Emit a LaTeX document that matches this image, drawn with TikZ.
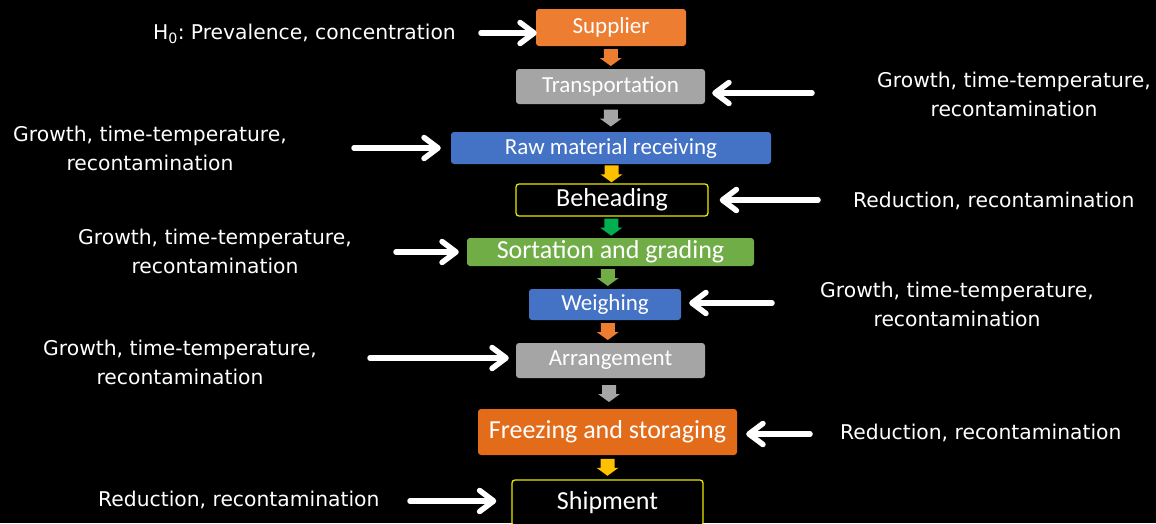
\documentclass[tikz,border=0pt]{standalone}
\usepackage{fontspec}
\setmainfont{DejaVu Sans}
\newfontfamily\boxfont{Carlito}
\usetikzlibrary{arrows.meta,calc}
\definecolor{borange}{HTML}{ED7D31}
\definecolor{dorange}{HTML}{E36C1B}
\definecolor{bgray}{HTML}{A5A5A5}
\definecolor{bblue}{HTML}{4472C4}
\definecolor{bgreen}{HTML}{70AD47}
\definecolor{dgreen}{HTML}{00B050}
\definecolor{bgold}{HTML}{FFC000}
\definecolor{byellow}{HTML}{E8E800}
\tikzset{
  box/.style={rounded corners=3pt, inner sep=0pt, text=white,
    font=\boxfont\fontsize{23}{27}\selectfont},
  bigtext/.style={font=\boxfont\fontsize{26}{30}\selectfont},
  outlinebox/.style={box, fill=black, draw=byellow, line width=1.3pt},
  sidetext/.style={text=white, align=center, inner sep=0pt,
    font=\fontsize{20.3}{29}\selectfont},
  sidearrow/.style={draw=white, line width=5.5pt, line cap=round, line join=round,
    -{Straight Barb[length=14pt,width=21pt,round]}},
}
\newcommand\blockarrow[3]{%
  \path (#1.south) -- (#2.north) coordinate[pos=.5] (m#1);
  \fill[#3] ($(m#1)+(-7,-8.5)$) -- ++(14,0) -- ++(0,9) -- ++(4,0)
    -- ++(-11,8) -- ++(-11,-8) -- ++(4,0) -- cycle;}
\begin{document}
\begin{tikzpicture}[x=1pt,y=-1pt]
\fill[black] (0,0) rectangle (1156,523);
\clip (0,0) rectangle (1156,523);

% process boxes
\node[box, fill=borange, minimum width=150, minimum height=37] (sup) at (611,27.5) {Supplier};
\node[box, fill=bgray, minimum width=189, minimum height=35] (tra) at (610.5,86.5) {Transportation};
\node[box, fill=bblue, minimum width=320, minimum height=32] (raw) at (611,148) {Raw material receiving};
\node[outlinebox, bigtext, minimum width=192, minimum height=32] (beh) at (612,200) {Beheading};
\node[box, bigtext, fill=bgreen, minimum width=287, minimum height=28] (sor) at (610.5,252) {Sortation and grading};
\node[box, fill=bblue, minimum width=152, minimum height=31] (wei) at (605,304.5) {Weighing};
\node[box, fill=bgray, minimum width=189, minimum height=35] (arr) at (610.5,360.5) {Arrangement};
\node[box, bigtext, fill=dorange, minimum width=259, minimum height=46] (fre) at (607.5,432) {Freezing and storaging};
\node[outlinebox, bigtext, minimum width=191, minimum height=46] (shi) at (607.5,503) {Shipment};

% block arrows between boxes
\blockarrow{sup}{tra}{borange}
\blockarrow{tra}{raw}{bgray}
\blockarrow{raw}{beh}{bgold}
\blockarrow{beh}{sor}{dgreen}
\blockarrow{sor}{wei}{bgreen}
\blockarrow{wei}{arr}{borange}
\blockarrow{arr}{fre}{bgray}
\blockarrow{fre}{shi}{bgold}

% side labels
\node[sidetext, anchor=east] (lh) at (456,34) {H\textsubscript{0}:\hspace{-0.12em} Prevalence, concentration};
\node[sidetext] (ltra) at (1014,94.5) {Growth, time-temperature,\\recontamination};
\node[sidetext] (lraw) at (150,148.5) {Growth, time-temperature,\\recontamination};
\node[sidetext, anchor=west] (lbeh) at (853,201) {Reduction, recontamination};
\node[sidetext] (lsor) at (215,251.5) {Growth, time-temperature,\\recontamination};
\node[sidetext] (lwei) at (957,304.5) {Growth, time-temperature,\\recontamination};
\node[sidetext] (larr) at (180,362.5) {Growth, time-temperature,\\recontamination};
\node[sidetext, anchor=west] (lfre) at (840,433) {Reduction, recontamination};
\node[sidetext, anchor=west] (lshi) at (98,500) {Reduction, recontamination};

% side arrows
\coordinate (th) at (481,33);
\coordinate (ttra) at (812,93);
\coordinate (traw) at (354,148);
\coordinate (tbeh) at (818,200);
\coordinate (tsor) at (396,252);
\coordinate (twei) at (772,303);
\coordinate (tarr) at (370,358);
\coordinate (tfre) at (810,434);
\coordinate (tshi) at (410,501);
\draw[sidearrow, shorten >=-1pt] (th) -- (th -| sup.west);
\draw[sidearrow, shorten >=7pt] (ttra) -- (ttra -| tra.east);
\draw[sidearrow, shorten >=10pt] (traw) -- (traw -| raw.west);
\draw[sidearrow, shorten >=11pt] (tbeh) -- (tbeh -| beh.east);
\draw[sidearrow, shorten >=8pt] (tsor) -- (tsor -| sor.west);
\draw[sidearrow, shorten >=8pt] (twei) -- (twei -| wei.east);
\draw[sidearrow, shorten >=7pt] (tarr) -- (tarr -| arr.west);
\draw[sidearrow, shorten >=9pt] (tfre) -- (tfre -| fre.east);
\draw[sidearrow, shorten >=15pt] (tshi) -- (tshi -| shi.west);
\end{tikzpicture}
\end{document}
